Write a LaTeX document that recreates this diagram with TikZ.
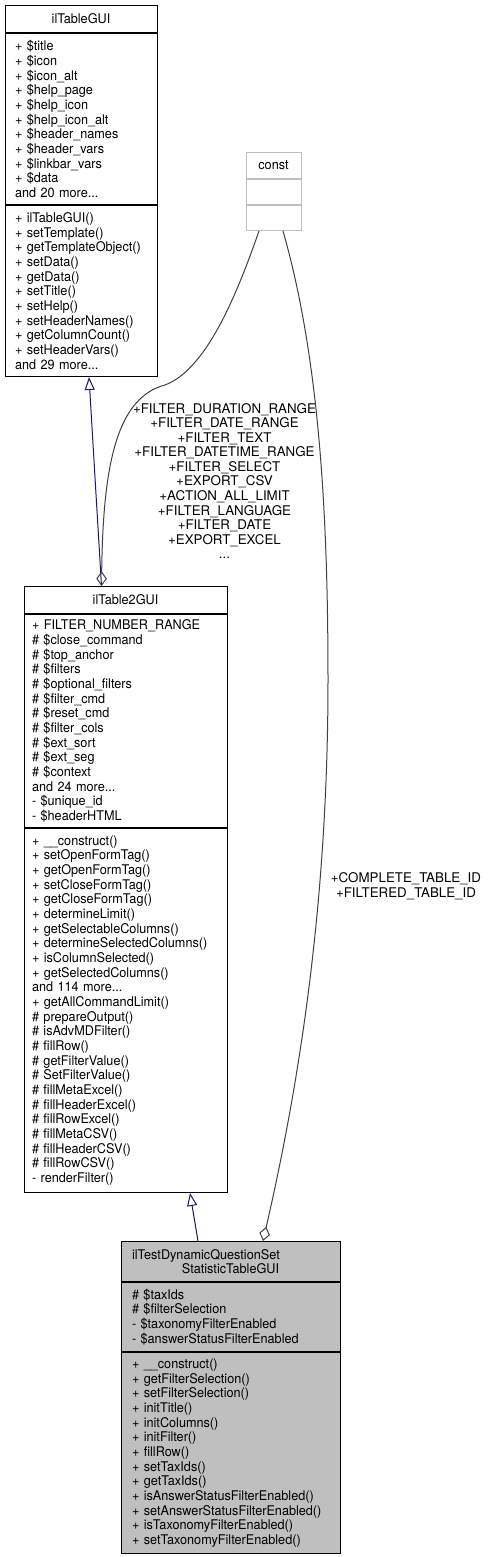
\documentclass[tikz,border=0pt]{standalone}
\usepackage{fontspec}
\setmainfont{TeX Gyre Heros}
\newfontfamily\umlfamily{TeX Gyre Heros}[FakeStretch=0.95]
\usetikzlibrary{arrows.meta,positioning,calc}
\definecolor{edgegrey}{RGB}{64,64,64}
\definecolor{inhblue}{RGB}{25,25,112}
\definecolor{boxgrey}{RGB}{191,191,191}
\newcommand{\umlfont}{\umlfamily\fontsize{10pt}{11pt}\selectfont}
\newcommand{\labelfont}{\fontsize{10pt}{10.9pt}\selectfont}

\begin{document}
\begin{tikzpicture}[x=0.75pt, y=-0.75pt,
  cls/.style={draw=black, line width=0.75pt, font=\umlfont, inner xsep=7.5pt, inner ysep=0pt},
  clstitle/.style={cls, align=center, minimum height=20.25pt},
  clsbody/.style={cls, align=left},
  edgelabel/.style={font=\labelfont, align=center, inner sep=0pt},
  inherit/.style={inhblue, line width=0.75pt, -{Triangle[open, length=9.75pt, width=7.5pt]}},
  aggreg/.style={edgegrey, line width=0.75pt, -{Diamond[open, length=11pt, width=8pt]}}]

\useasboundingbox (0,0) rectangle (489,1557);

% --- ilTableGUI ---
\node[clstitle, text width=99pt, anchor=north] (ttitle) at (81,5) {ilTableGUI};
\node[clsbody, text width=99pt, minimum height=128.25pt, below=0pt of ttitle] (tattr)
  {+ \$title\\+ \$icon\\+ \$icon\_alt\\+ \$help\_page\\+ \$help\_icon\\
   + \$help\_icon\_alt\\+ \$header\_names\\+ \$header\_vars\\+ \$linkbar\_vars\\
   + \$data\\and 20 more...};
\node[clsbody, text width=99pt, minimum height=128.25pt, below=0pt of tattr] (tmeth)
  {+ ilTableGUI()\\+ setTemplate()\\+ getTemplateObject()\\+ setData()\\
   + getData()\\+ setTitle()\\+ setHelp()\\+ setHeaderNames()\\
   + getColumnCount()\\+ setHeaderVars()\\and 29 more...};

% --- const ---
\node[clstitle, draw=boxgrey, minimum width=41.25pt, minimum height=19.5pt, anchor=north] (ctitle) at (273.5,152) {const};
\node[cls, draw=boxgrey, minimum width=41.25pt, minimum height=18.75pt, below=0pt of ctitle] (cattr) {};
\node[cls, draw=boxgrey, minimum width=41.25pt, minimum height=18.75pt, below=0pt of cattr] (cmeth) {};

% --- ilTable2GUI ---
\node[clstitle, inner xsep=6pt, text width=140.25pt, anchor=north] (t2title) at (125.5,586) {ilTable2GUI};
\node[clsbody, inner xsep=6pt, text width=140.25pt, minimum height=159.75pt, below=0pt of t2title] (t2attr)
  {+ FILTER\_NUMBER\_RANGE\\\# \$close\_command\\\# \$top\_anchor\\\# \$filters\\
   \# \$optional\_filters\\\# \$filter\_cmd\\\# \$reset\_cmd\\\# \$filter\_cols\\
   \# \$ext\_sort\\\# \$ext\_seg\\\# \$context\\and 24 more...\\
   - \$unique\_id\\- \$headerHTML};
\node[clsbody, inner xsep=6pt, text width=140.25pt, minimum height=273pt, below=0pt of t2attr] (t2meth)
  {+ \_\_construct()\\+ setOpenFormTag()\\+ getOpenFormTag()\\+ setCloseFormTag()\\
   + getCloseFormTag()\\+ determineLimit()\\+ getSelectableColumns()\\
   + determineSelectedColumns()\\+ isColumnSelected()\\+ getSelectedColumns()\\
   and 114 more...\\+ getAllCommandLimit()\\\# prepareOutput()\\\# isAdvMDFilter()\\
   \# fillRow()\\\# getFilterValue()\\\# SetFilterValue()\\\# fillMetaExcel()\\
   \# fillHeaderExcel()\\\# fillRowExcel()\\\# fillMetaCSV()\\\# fillHeaderCSV()\\
   \# fillRowCSV()\\- renderFilter()};

% --- ilTestDynamicQuestionSetStatisticTableGUI ---
\node[clstitle, fill=boxgrey, inner xsep=8.25pt, text width=147.75pt, minimum height=30pt, anchor=north] (dtitle) at (230.5,1241)
  {\makebox[\hsize][l]{ilTestDynamicQuestionSet}\\StatisticTableGUI};
\node[clsbody, fill=boxgrey, inner xsep=8.25pt, text width=147.75pt, minimum height=51.75pt, below=0pt of dtitle] (dattr)
  {\# \$taxIds\\\# \$filterSelection\\- \$taxonomyFilterEnabled\\- \$answerStatusFilterEnabled};
\node[clsbody, fill=boxgrey, inner xsep=8.25pt, text width=147.75pt, minimum height=150.75pt, below=0pt of dattr] (dmeth)
  {+ \_\_construct()\\+ getFilterSelection()\\+ setFilterSelection()\\+ initTitle()\\
   + initColumns()\\+ initFilter()\\+ fillRow()\\+ setTaxIds()\\+ getTaxIds()\\
   + isAnswerStatusFilterEnabled()\\+ setAnswerStatusFilterEnabled()\\
   + isTaxonomyFilterEnabled()\\+ setTaxonomyFilterEnabled()};

% inheritance
\draw[inherit] ($(t2title.north)+(-24,0)$) -- ($(tmeth.south)+(8,0)$);
\draw[inherit] ($(dtitle.north)+(-32.5,0)$) -- ($(t2meth.south)+(64.5,0)$);

% const members
\draw[aggreg] ($(cmeth.south)+(-14.5,0)$) .. controls (235,300) and (205,370) .. (165,385)
  .. controls (115,398) and (103,470) .. ($(t2title.north)+(-24,0)$);
\node[edgelabel] (lblfilter) at (224.5,481)
  {+FILTER\_DURATION\_RANGE\\+FILTER\_DATE\_RANGE\\+FILTER\_TEXT\\+FILTER\_DATETIME\_RANGE\\
   +FILTER\_SELECT\\+EXPORT\_CSV\\+ACTION\_ALL\_LIMIT\\+FILTER\_LANGUAGE\\
   +FILTER\_DATE\\+EXPORT\_EXCEL\\...};

\draw[aggreg] ($(cmeth.south)+(9.5,0)$) .. controls (320,360) and (328,520) .. (328,680)
  .. controls (328,900) and (300,1080) .. ($(dtitle.north)+(32.5,0)$);
\node[edgelabel] (lbltable) at (406,886) {+COMPLETE\_TABLE\_ID\\+FILTERED\_TABLE\_ID};

\end{tikzpicture}
\end{document}
